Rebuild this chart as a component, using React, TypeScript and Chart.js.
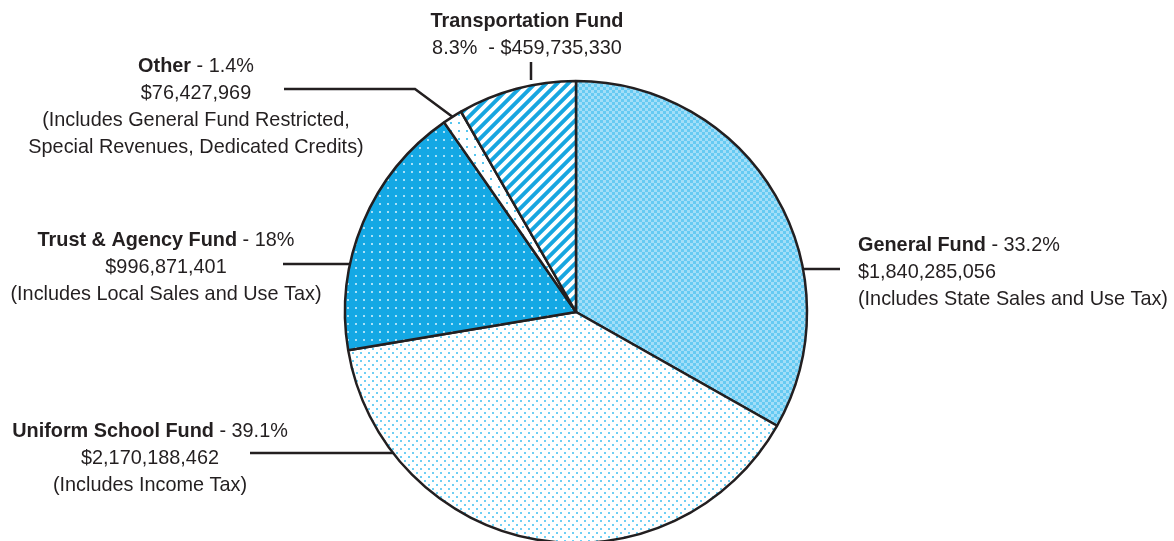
import React, { useEffect, useRef } from 'react';
import { Chart, registerables } from 'chart.js';

Chart.register(...registerables);

// ---- Data ----
const categories = ['General Fund', 'Uniform School Fund', 'Trust & Agency Fund', 'Other', 'Transportation Fund'];
const amounts = [1840285056, 2170188462, 996871401, 76427969, 459735330];
const percentLabels = ['33.2%', '39.1%', '18%', '1.4%', '8.3%'];
const amountLabels = ['$1,840,285,056', '$2,170,188,462', '$996,871,401', '$76,427,969', '$459,735,330'];
const noteLabels: string[][] = [
  ['(Includes State Sales and Use Tax)'],
  ['(Includes Income Tax)'],
  ['(Includes Local Sales and Use Tax)'],
  ['(Includes General Fund Restricted,', 'Special Revenues, Dedicated Credits)'],
  [],
];

// ---- Layout / style ----
const INK = '#231f20';
const FONT_SIZE = 21;
const LINE_H = 27;

type Leader =
  | { kind: 'h'; y: number; x0: number; side: 'left' | 'right' }
  | { kind: 'elbow'; y: number; x0: number; x1: number }
  | { kind: 'v'; x: number; y0: number; y1: number };

interface LabelLayout {
  x: number;
  y: number; // first baseline
  align: 'left' | 'center';
  leader: Leader;
  compact?: boolean;
}

const layouts: LabelLayout[] = [
  { x: 858, y: 251, align: 'left', leader: { kind: 'h', y: 269, x0: 840, side: 'right' } },
  { x: 150, y: 437, align: 'center', leader: { kind: 'h', y: 453, x0: 250, side: 'left' } },
  { x: 166, y: 246, align: 'center', leader: { kind: 'h', y: 264, x0: 283, side: 'left' } },
  { x: 196, y: 72, align: 'center', leader: { kind: 'elbow', y: 89, x0: 284, x1: 415 } },
  { x: 527, y: 27, align: 'center', leader: { kind: 'v', x: 531, y0: 62, y1: 80 }, compact: true },
];

// ---- Pattern tiles ----
function tile(w: number, h: number, draw: (c: CanvasRenderingContext2D) => void) {
  const c = document.createElement('canvas');
  c.width = w;
  c.height = h;
  const x = c.getContext('2d')!;
  draw(x);
  return c;
}

function hexToRgb(h: string) {
  const n = parseInt(h.slice(1), 16);
  return [(n >> 16) & 255, (n >> 8) & 255, n & 255];
}

function makePatterns(ctx: CanvasRenderingContext2D): CanvasPattern[] {
  const checker = tile(6, 6, (c) => {
    c.fillStyle = '#a2def8';
    c.fillRect(0, 0, 6, 6);
    c.fillStyle = '#66caf2';
    c.fillRect(0, 0, 3, 3);
    c.fillRect(3, 3, 3, 3);
  });
  const lightDots = tile(8, 8, (c) => {
    c.fillStyle = '#ffffff';
    c.fillRect(0, 0, 8, 8);
    c.fillStyle = '#6fcff4';
    c.fillRect(0, 0, 2, 2);
    c.fillRect(4, 4, 2, 2);
  });
  const blueDots = tile(8, 8, (c) => {
    c.fillStyle = '#14a8e4';
    c.fillRect(0, 0, 8, 8);
    c.fillStyle = '#a8e0f7';
    c.fillRect(3, 3, 2, 2);
  });
  const sparseDots = tile(8, 8, (c) => {
    c.fillStyle = '#ffffff';
    c.fillRect(0, 0, 8, 8);
    c.fillStyle = '#56c5ef';
    c.fillRect(2, 2, 2, 2);
  });
  const P = 11;
  const stripes = tile(P, P, (c) => {
    const img = c.createImageData(P, P);
    const [br, bg, bb] = hexToRgb('#17a6e0');
    for (let y = 0; y < P; y++) {
      for (let x = 0; x < P; x++) {
        let cov = 0;
        for (let sy = 0; sy < 4; sy++) {
          for (let sx = 0; sx < 4; sx++) {
            const v = (((x + (sx + 0.5) / 4 + y + (sy + 0.5) / 4) % P) + P) % P;
            if (v < P / 2) cov++;
          }
        }
        const a = cov / 16;
        const i = (y * P + x) * 4;
        img.data[i] = Math.round(255 + (br - 255) * a);
        img.data[i + 1] = Math.round(255 + (bg - 255) * a);
        img.data[i + 2] = Math.round(255 + (bb - 255) * a);
        img.data[i + 3] = 255;
      }
    }
    c.putImageData(img, 0, 0);
  });
  return [checker, lightDots, blueDots, sparseDots, stripes].map((t) => ctx.createPattern(t, 'repeat')!);
}

// ---- Font helpers ----
function narrowAvailable(ctx: CanvasRenderingContext2D) {
  ctx.font = '40px "Liberation Sans Narrow", monospace';
  const a = ctx.measureText('Uniform School Fund 123').width;
  ctx.font = '40px monospace';
  const b = ctx.measureText('Uniform School Fund 123').width;
  return Math.abs(a - b) > 0.5;
}

type Seg = { t: string; bold: boolean };

const labelPlugin = {
  id: 'fundLabels',
  afterDraw(chart: Chart) {
    const ctx = chart.ctx;
    const meta = chart.getDatasetMeta(0);
    const hasNarrow = narrowAvailable(ctx);
    const family = hasNarrow ? '"Liberation Sans Narrow", "Arial Narrow", sans-serif' : '"Liberation Sans", Arial, sans-serif';
    const sx = hasNarrow ? 1.15 : 0.945;
    const fontFor = (bold: boolean) => `${bold ? 'bold ' : ''}${FONT_SIZE}px ${family}`;

    const drawLine = (segs: Seg[], x: number, y: number, align: 'left' | 'center') => {
      let total = 0;
      for (const s of segs) {
        ctx.font = fontFor(s.bold);
        total += ctx.measureText(s.t).width * sx;
      }
      let cx = align === 'center' ? x - total / 2 : x;
      for (const s of segs) {
        ctx.font = fontFor(s.bold);
        const w = ctx.measureText(s.t).width * sx;
        ctx.save();
        ctx.translate(cx, y);
        ctx.scale(sx, 1);
        ctx.fillText(s.t, 0, 0);
        ctx.restore();
        cx += w;
      }
    };

    ctx.save();
    ctx.fillStyle = INK;
    ctx.strokeStyle = INK;
    ctx.lineWidth = 2.5;
    ctx.textBaseline = 'alphabetic';
    ctx.textAlign = 'left';

    meta.data.forEach((el: any, i: number) => {
      const L = layouts[i];
      const { x: cx, y: cy, outerRadius: r, startAngle, endAngle } = el.getProps(
        ['x', 'y', 'outerRadius', 'startAngle', 'endAngle'],
        true
      );
      ctx.beginPath();
      const ld = L.leader;
      if (ld.kind === 'h') {
        const dx = Math.sqrt(Math.max(r * r - (ld.y - cy) * (ld.y - cy), 0));
        const ex = ld.side === 'left' ? cx - dx : cx + dx;
        ctx.moveTo(ld.x0, ld.y);
        ctx.lineTo(ex, ld.y);
      } else if (ld.kind === 'elbow') {
        const mid = (startAngle + endAngle) / 2;
        ctx.moveTo(ld.x0, ld.y);
        ctx.lineTo(ld.x1, ld.y);
        ctx.lineTo(cx + Math.cos(mid) * r, cy + Math.sin(mid) * r);
      } else {
        ctx.moveTo(ld.x, ld.y0);
        ctx.lineTo(ld.x, ld.y1);
      }
      ctx.stroke();

      let y = L.y;
      if (L.compact) {
        drawLine([{ t: categories[i], bold: true }], L.x, y, L.align);
        y += LINE_H;
        drawLine([{ t: `${percentLabels[i]}  - ${amountLabels[i]}`, bold: false }], L.x, y, L.align);
      } else {
        drawLine(
          [
            { t: categories[i], bold: true },
            { t: ` - ${percentLabels[i]}`, bold: false },
          ],
          L.x,
          y,
          L.align
        );
        y += LINE_H;
        drawLine([{ t: amountLabels[i], bold: false }], L.x, y, L.align);
        for (const n of noteLabels[i]) {
          y += LINE_H;
          drawLine([{ t: n, bold: false }], L.x, y, L.align);
        }
      }
    });
    ctx.restore();
  },
};

export default function App() {
  const ref = useRef<HTMLCanvasElement | null>(null);

  useEffect(() => {
    const canvas = ref.current!;
    const ctx = canvas.getContext('2d')!;
    const patterns = makePatterns(ctx);
    const chart = new Chart(canvas, {
      type: 'pie',
      data: {
        labels: categories,
        datasets: [
          {
            data: amounts,
            backgroundColor: patterns as any,
            borderColor: INK,
            borderWidth: 2.5,
            hoverOffset: 0,
          },
        ],
      },
      options: {
        responsive: false,
        animation: false,
        devicePixelRatio: 1,
        radius: 231,
        layout: { padding: { left: 345, right: 367, top: 81, bottom: 17 } },
        plugins: {
          legend: { display: false },
          tooltip: { enabled: false },
        },
        events: [],
      } as any,
      plugins: [labelPlugin as any],
    });
    return () => chart.destroy();
  }, []);

  return (
    <div
      style={{
        position: 'absolute',
        left: 0,
        top: 0,
        width: 1174,
        height: 541,
        overflow: 'hidden',
        background: '#ffffff',
      }}
    >
      <canvas ref={ref} width={1174} height={560} style={{ display: 'block', width: 1174, height: 560 }} />
    </div>
  );
}
